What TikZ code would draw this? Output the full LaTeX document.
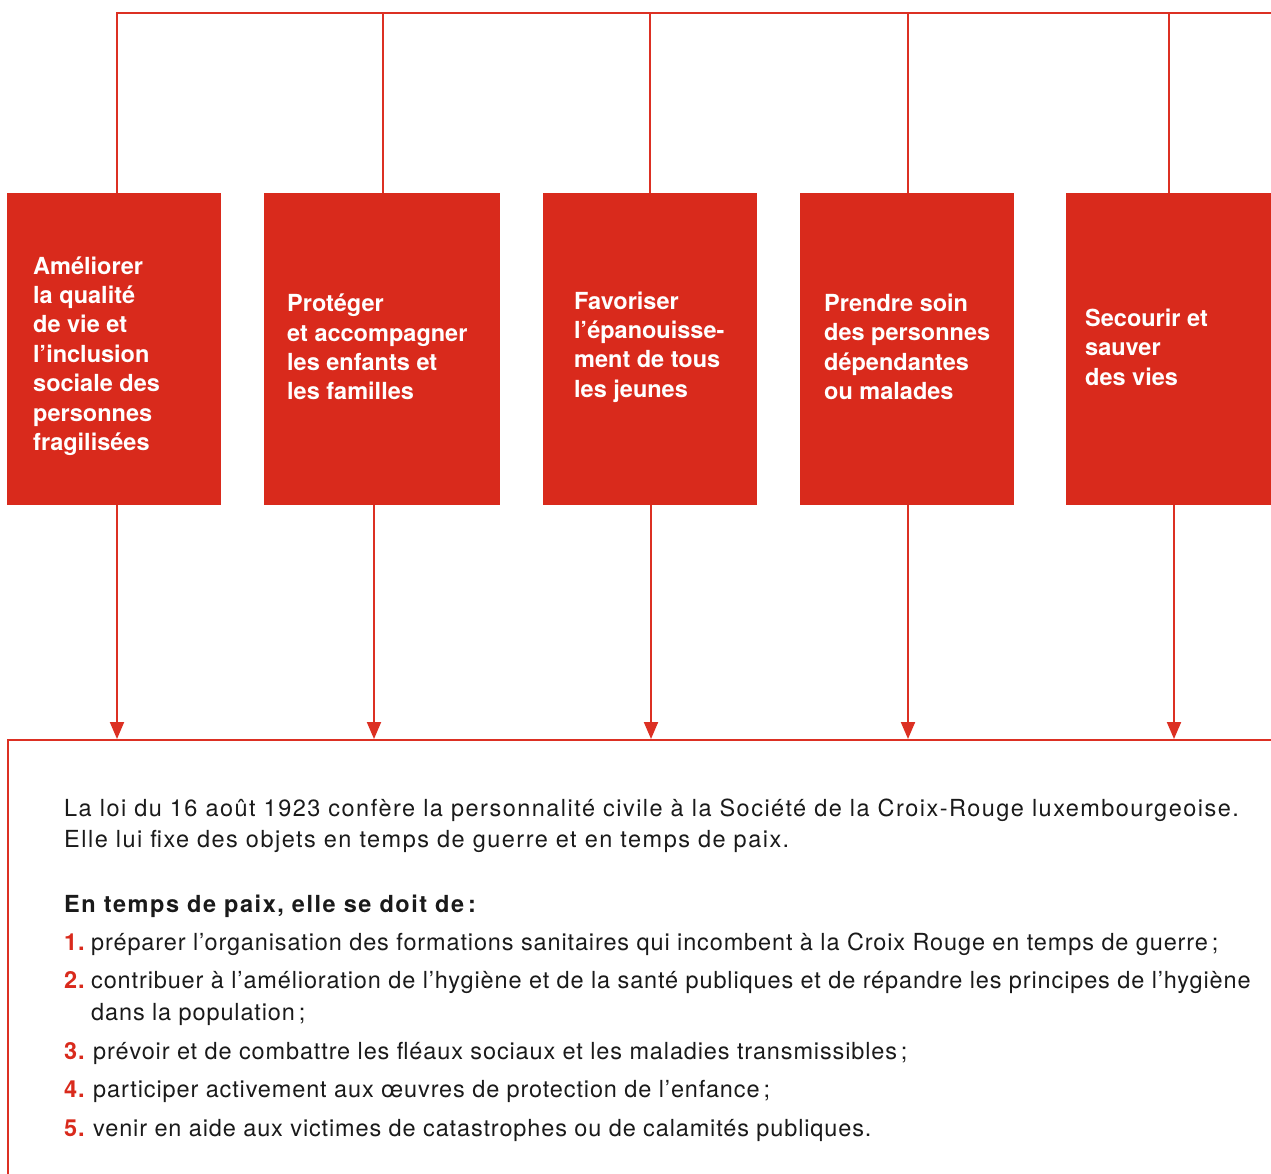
\documentclass[tikz,border=0pt]{standalone}
\usepackage{fontspec}
\setmainfont{TeX Gyre Heros}
\newfontfamily\bodyfont[LetterSpace=3.7]{TeX Gyre Heros}
\newfontfamily\parafont[LetterSpace=6.3]{TeX Gyre Heros}
\newfontfamily\headfont[LetterSpace=6.5]{TeX Gyre Heros}
\newfontfamily\boxfont[LetterSpace=0]{TeX Gyre Heros}
\usetikzlibrary{arrows.meta}
\definecolor{crred}{HTML}{D92A1C}
\definecolor{lnred}{HTML}{DC3023}
\definecolor{txt}{HTML}{1A1A1A}
\tikzset{
  x=1pt, y=-1pt,
  redbox/.style={fill=crred, draw=none, anchor=north west, minimum height=312pt, inner sep=0pt},
  boxtext/.style={anchor=west, align=left, text=white, inner sep=0pt, font=\boxfont\bfseries\fontsize{23.5}{29.4}\selectfont},
  conn/.style={draw=lnred, line width=2pt},
  arr/.style={conn, -{Triangle[length=17pt, width=14pt]}, shorten >=1pt},
  body/.style={anchor=base west, inner sep=0pt, text=txt, font=\bodyfont\fontsize{23.5}{31}\selectfont},
  para/.style={body, font=\parafont\fontsize{23.5}{31}\selectfont},
  num/.style={anchor=base west, inner sep=0pt, text=crred, font=\bodyfont\bfseries\fontsize{23.5}{31}\selectfont},
}
\begin{document}
\begin{tikzpicture}
\useasboundingbox (0,0) rectangle (1271,1174);
% boxes
\node[redbox, minimum width=214pt] (b1) at (7,193) {};
\node[redbox, minimum width=236pt] (b2) at (264,193) {};
\node[redbox, minimum width=214pt] (b3) at (543,193) {};
\node[redbox, minimum width=214pt] (b4) at (800,193) {};
\node[redbox, minimum width=210pt] (b5) at (1066,193) {};
% box texts
\node[boxtext] (t1) at (33,356) {Améliorer\\la qualité\\de vie et\\l’inclusion\\sociale des\\personnes\\fragilisées};
\node[boxtext] (t2) at (287,347) {Protéger\\et accompagner\\les enfants et\\les familles};
\node[boxtext] (t3) at (574,347) {Favoriser\\l’épanouisse-\\ment de tous\\les jeunes};
\node[boxtext] (t4) at (824,347) {Prendre soin\\des personnes\\dépendantes\\ou malades};
\node[boxtext] (t5) at (1085,347) {Secourir et\\sauver\\des vies};
% top connector line
\coordinate (h1) at (117,13);
\coordinate (h2) at (383,13);
\coordinate (h3) at (650,13);
\coordinate (h4) at (908,13);
\coordinate (h5) at (1169,13);
\coordinate (hend) at (1272,13);
\draw[conn] (h1 |- b1.north) -- (h1) -- (hend);
\draw[conn] (h2) -- (h2 |- b2.north);
\draw[conn] (h3) -- (h3 |- b3.north);
\draw[conn] (h4) -- (h4 |- b4.north);
\draw[conn] (h5) -- (h5 |- b5.north);
% bottom frame
\coordinate (fl) at (8,740);
\coordinate (fr) at (1272,740);
\coordinate (fb) at (8,1176);
\draw[conn, line width=1.8pt] (fr) -- (fl) -- (fb);
% arrows
\coordinate (a1) at (117,740);
\coordinate (a2) at (374,740);
\coordinate (a3) at (651,740);
\coordinate (a4) at (908,740);
\coordinate (a5) at (1174,740);
\draw[arr] (a1 |- b1.south) -- (a1);
\draw[arr] (a2 |- b2.south) -- (a2);
\draw[arr] (a3 |- b3.south) -- (a3);
\draw[arr] (a4 |- b4.south) -- (a4);
\draw[arr] (a5 |- b5.south) -- (a5);
% body text
\node[para] (l1) at (64,816) {La loi du 16 août 1923 confère la personnalité civile à la Société de la Croix-Rouge luxembourgeoise.};
\node[para] (l2) at (64,847) {Elle lui fixe des objets en temps de guerre et en temps de paix.};
\node[body, font=\headfont\bfseries\fontsize{23.5}{31}\selectfont] (hd) at (64,912) {En temps de paix, elle se doit de\,:};
\node[num] (n1) at (64,950) {1.};
\node[body] (i1) at (91,950) {préparer l’organisation des formations sanitaires qui incombent à la Croix Rouge en temps de guerre\,;};
\node[num] (n2) at (64,988) {2.};
\node[body] (i2) at (91,988) {contribuer à l’amélioration de l’hygiène et de la santé publiques et de répandre les principes de l’hygiène};
\node[body] (i2b) at (91,1020) {dans la population\,;};
\node[num] (n3) at (64,1059) {3.};
\node[body] (i3) at (93,1059) {prévoir et de combattre les fléaux sociaux et les maladies transmissibles\,;};
\node[num] (n4) at (64,1097) {4.};
\node[body] (i4) at (93,1097) {participer activement aux œuvres de protection de l’enfance\,;};
\node[num] (n5) at (64,1136) {5.};
\node[body] (i5) at (93,1136) {venir en aide aux victimes de catastrophes ou de calamités publiques.};
\end{tikzpicture}
\end{document}
